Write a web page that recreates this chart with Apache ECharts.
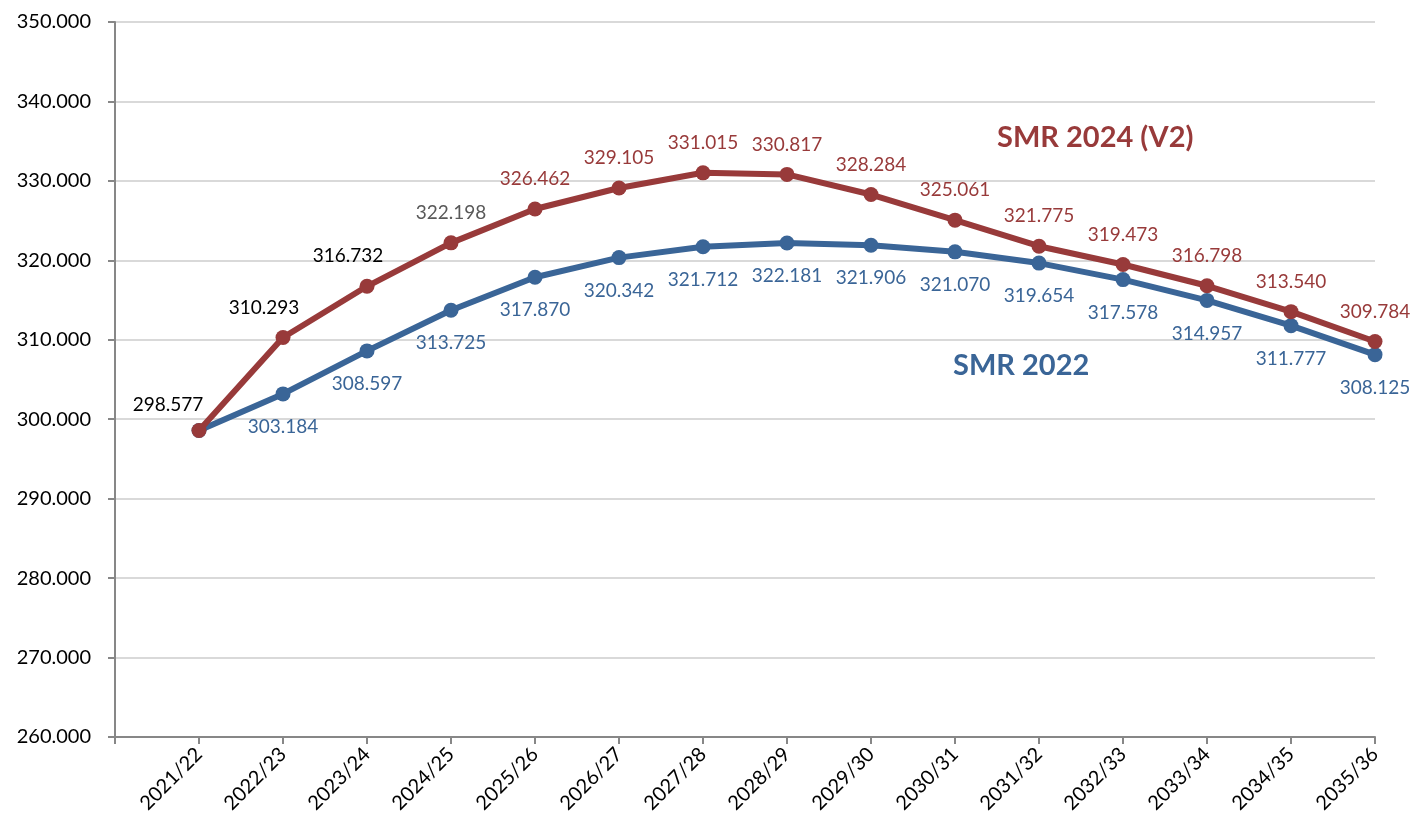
<!DOCTYPE html>
<html>
<head>
<meta charset="utf-8">
<script src="https://cdn.jsdelivr.net/npm/echarts@6/dist/echarts.min.js"></script>
<style>
  html, body { margin: 0; padding: 0; background: #fff; }
  #chart { width: 1413px; height: 825px; }
</style>
</head>
<body>
<div id="chart"></div>
<script>
// categories and values
const years = ['2021/22', '2022/23', '2023/24', '2024/25', '2025/26', '2026/27', '2027/28', '2028/29',
  '2029/30', '2030/31', '2031/32', '2032/33', '2033/34', '2034/35', '2035/36']
const smr2024 = [298.577, 310.293, 316.732, 322.198, 326.462, 329.105, 331.015, 330.817,
  328.284, 325.061, 321.775, 319.473, 316.798, 313.540, 309.784]
const smr2022 = [298.577, 303.184, 308.597, 313.725, 317.870, 320.342, 321.712, 322.181,
  321.906, 321.070, 319.654, 317.578, 314.957, 311.777, 308.125]

const RED = '#983a3a'
const BLUE = '#3a6597'
const FONT = 'Lato'

// label tweaks for the first few red points (as in the original)
const redLabelTweaks = {
  0: { offset: [-31, 4], color: '#000' },
  1: { offset: [-19, 0], color: '#000' },
  2: { offset: [-19, 0], color: '#000' },
  3: { color: '#595959' }
}

const chart = echarts.init(document.getElementById('chart'))

// leading empty category so the first point sits one step in from the y axis
const xCats = [''].concat(years)

chart.setOption({
  animation: false,
  grid: { left: 115, right: 38, top: 22, bottom: 88 },
  xAxis: {
    type: 'category',
    data: xCats,
    boundaryGap: false,
    axisLine: { lineStyle: { color: '#878787', width: 2 } },
    axisTick: { show: true, length: 7, interval: 0, lineStyle: { color: '#878787', width: 2 } },
    axisLabel: { interval: 0, rotate: 45, fontFamily: FONT, fontSize: 20, color: '#000', margin: 14 },
    splitLine: { show: false }
  },
  yAxis: {
    type: 'value',
    min: 260, max: 350, interval: 10,
    axisLine: { show: true, lineStyle: { color: '#878787', width: 2 } },
    axisTick: { show: true, length: 7, lineStyle: { color: '#878787', width: 2 } },
    axisLabel: { fontFamily: FONT, fontSize: 20, color: '#000', margin: 24, formatter: v => v.toFixed(3) },
    splitLine: { lineStyle: { color: '#d9d9d9', width: 2 } }
  },
  graphic: [
    { type: 'text', left: 997, top: 123, style: { text: 'SMR 2024 (V2)', fill: RED, font: 'bold 29px Lato' } },
    { type: 'text', left: 953, top: 351, style: { text: 'SMR 2022', fill: BLUE, font: 'bold 29px Lato' } }
  ],
  series: [
    {
      name: 'SMR 2022',
      type: 'line',
      data: [null].concat(smr2022.map((v, i) => i === 0 ? { value: v, label: { show: false } } : v)),
      symbol: 'circle',
      symbolSize: 15,
      lineStyle: { color: BLUE, width: 6 },
      itemStyle: { color: BLUE },
      label: {
        show: true, position: 'bottom', distance: 16,
        fontFamily: FONT, fontSize: 19, color: BLUE,
        formatter: p => p.value.toFixed(3)
      },
      z: 2
    },
    {
      name: 'SMR 2024 (V2)',
      type: 'line',
      data: [null].concat(smr2024.map((v, i) => redLabelTweaks[i] ? { value: v, label: redLabelTweaks[i] } : v)),
      symbol: 'circle',
      symbolSize: 15,
      lineStyle: { color: RED, width: 6 },
      itemStyle: { color: RED },
      label: {
        show: true, position: 'top', distance: 13,
        fontFamily: FONT, fontSize: 19, color: RED,
        formatter: p => p.value.toFixed(3)
      },
      z: 3
    }
  ]
})
</script>
</body>
</html>
